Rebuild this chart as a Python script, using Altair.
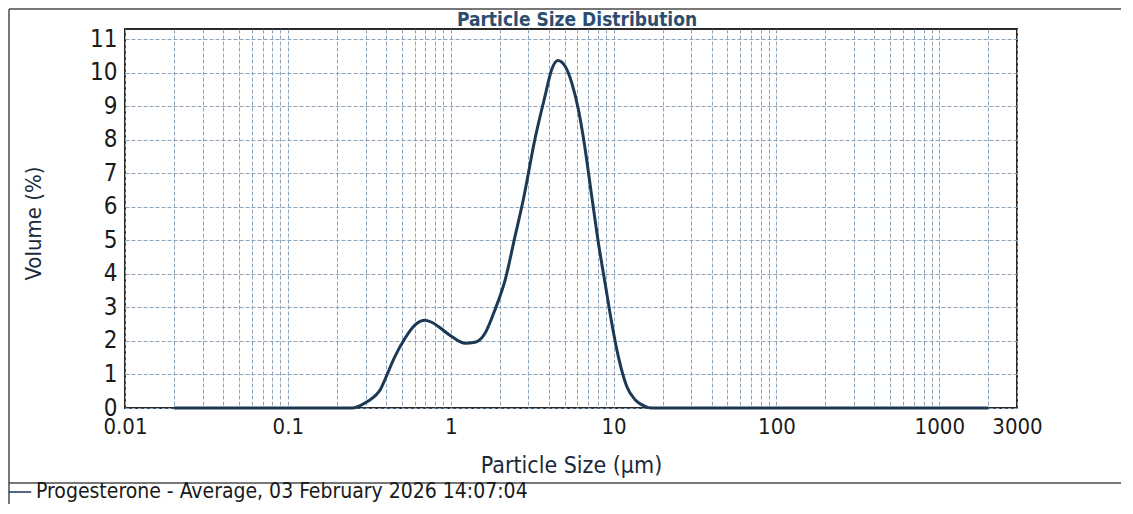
import altair as alt
import pandas as pd

# Particle size (µm) and volume (%)
sizes = [0.02, 0.25, 0.28, 0.31, 0.343, 0.37, 0.394, 0.454, 0.524, 0.604, 0.695,
         0.77, 0.839, 1.014, 1.224, 1.41, 1.625, 1.87, 2.16, 2.48, 2.79, 3.30,
         3.79, 4.17, 4.54, 5.04, 5.54, 6.08, 6.53, 7.35, 8.07, 8.87, 9.75, 10.7,
         12.05, 13.6, 15.6, 17.0, 2000]
volumes = [0, 0, 0.08, 0.2, 0.36, 0.55, 0.84, 1.53, 2.08, 2.48, 2.62,
           2.55, 2.43, 2.13, 1.93, 1.96, 2.23, 2.93, 3.82, 5.11, 6.21, 8.05,
           9.29, 10.09, 10.36, 10.19, 9.69, 8.90, 8.05, 6.3, 4.92, 3.72, 2.53, 1.53,
           0.64, 0.24, 0.05, 0, 0]
series_name = "Progesterone - Average, 03 February 2026 14:07:04"
chart_title = "Particle Size Distribution"

x_labels = [0.01, 0.1, 1, 10, 100, 1000, 3000]
x_grid = [round(m * 10 ** e, 8) for e in range(-2, 4) for m in range(1, 10)
          if m * 10 ** e <= 3000] + [3000]
y_ticks = list(range(0, 12))

df = pd.DataFrame({"size": sizes, "volume": volumes, "series": series_name})

FONT = "DejaVu Sans Condensed, Liberation Sans Narrow, DejaVu Sans"
GRID = "#8ea4b9"
INK = "#1c3955"

label_list = "[" + ",".join(str(v) for v in x_labels) + "]"

x_enc = alt.X(
    "size:Q",
    scale=alt.Scale(type="log", domain=[0.01, 3000], nice=False),
    axis=alt.Axis(
        values=x_grid,
        labelExpr=f"indexof({label_list}, datum.value) >= 0 ? format(datum.value, '~g') : ''",
        title="Particle Size (µm)",
        grid=True, gridColor=GRID, gridDash=[4, 2], gridWidth=1,
        ticks=False, domain=False,
        labelFont=FONT, labelFontSize=22, labelColor="#1a1a1a",
        labelPadding=8, labelFlush=False, labelOverlap=False,
        titleFont=FONT, titleFontSize=23, titleFontWeight="normal",
        titleColor="#1a2a3a", titleY=64, titleBaseline="alphabetic",
    ),
)
y_enc = alt.Y(
    "volume:Q",
    scale=alt.Scale(domain=[0, 11.3], nice=False),
    axis=alt.Axis(
        values=y_ticks, format="d",
        title="Volume (%)",
        grid=True, gridColor=GRID, gridDash=[4, 2], gridWidth=1,
        ticks=False, domain=False,
        labelFont=FONT, labelFontSize=24, labelColor="#1a1a1a", labelPadding=8,
        titleFont=FONT, titleFontSize=22, titleFontWeight="normal",
        titleColor="#1a2a3a", titleX=-92, titleY=194, titleAngle=-90,
        titleAlign="center", titleBaseline="middle",
    ),
)

curve = alt.Chart(df).mark_line(strokeWidth=3, interpolate="monotone").encode(
    x=x_enc,
    y=y_enc,
    color=alt.Color(
        "series:N",
        scale=alt.Scale(range=[INK]),
        legend=alt.Legend(
            title=None, orient="none", legendX=-117, legendY=451,
            symbolType="stroke", symbolSize=500, symbolStrokeWidth=1.5,
            labelFont=FONT, labelFontSize=21, labelColor="#1a1a1a",
            labelLimit=800, symbolOffset=0,
        ),
    ),
)

one = pd.DataFrame({"k": [0]})
title_mark = alt.Chart(one).mark_text(
    font=FONT, fontSize=19, fontWeight="bold", color="#2b4d70",
    align="center", baseline="alphabetic",
).encode(x=alt.value(452), y=alt.value(-3), text=alt.value(chart_title))

frame_style = dict(color="#4a4a4a", strokeWidth=1.5)
top_line = alt.Chart(one).mark_rule(**frame_style).encode(
    x=alt.value(-116), x2=alt.value(996), y=alt.value(-20))
left_line = alt.Chart(one).mark_rule(**frame_style).encode(
    x=alt.value(-116), y=alt.value(-20), y2=alt.value(476))
sep_line = alt.Chart(one).mark_rule(**frame_style).encode(
    x=alt.value(-116), x2=alt.value(996), y=alt.value(454))

chart = alt.layer(curve, title_mark, top_line, left_line, sep_line).properties(
    width=892,
    height=379,
    autosize=alt.AutoSizeParams(type="none"),
    padding={"left": 117, "top": 21, "right": 108, "bottom": 96},
).configure_view(stroke="#2a2a2a", strokeWidth=2)

chart.save("out.html", embed_options={"renderer": "svg", "actions": False})
